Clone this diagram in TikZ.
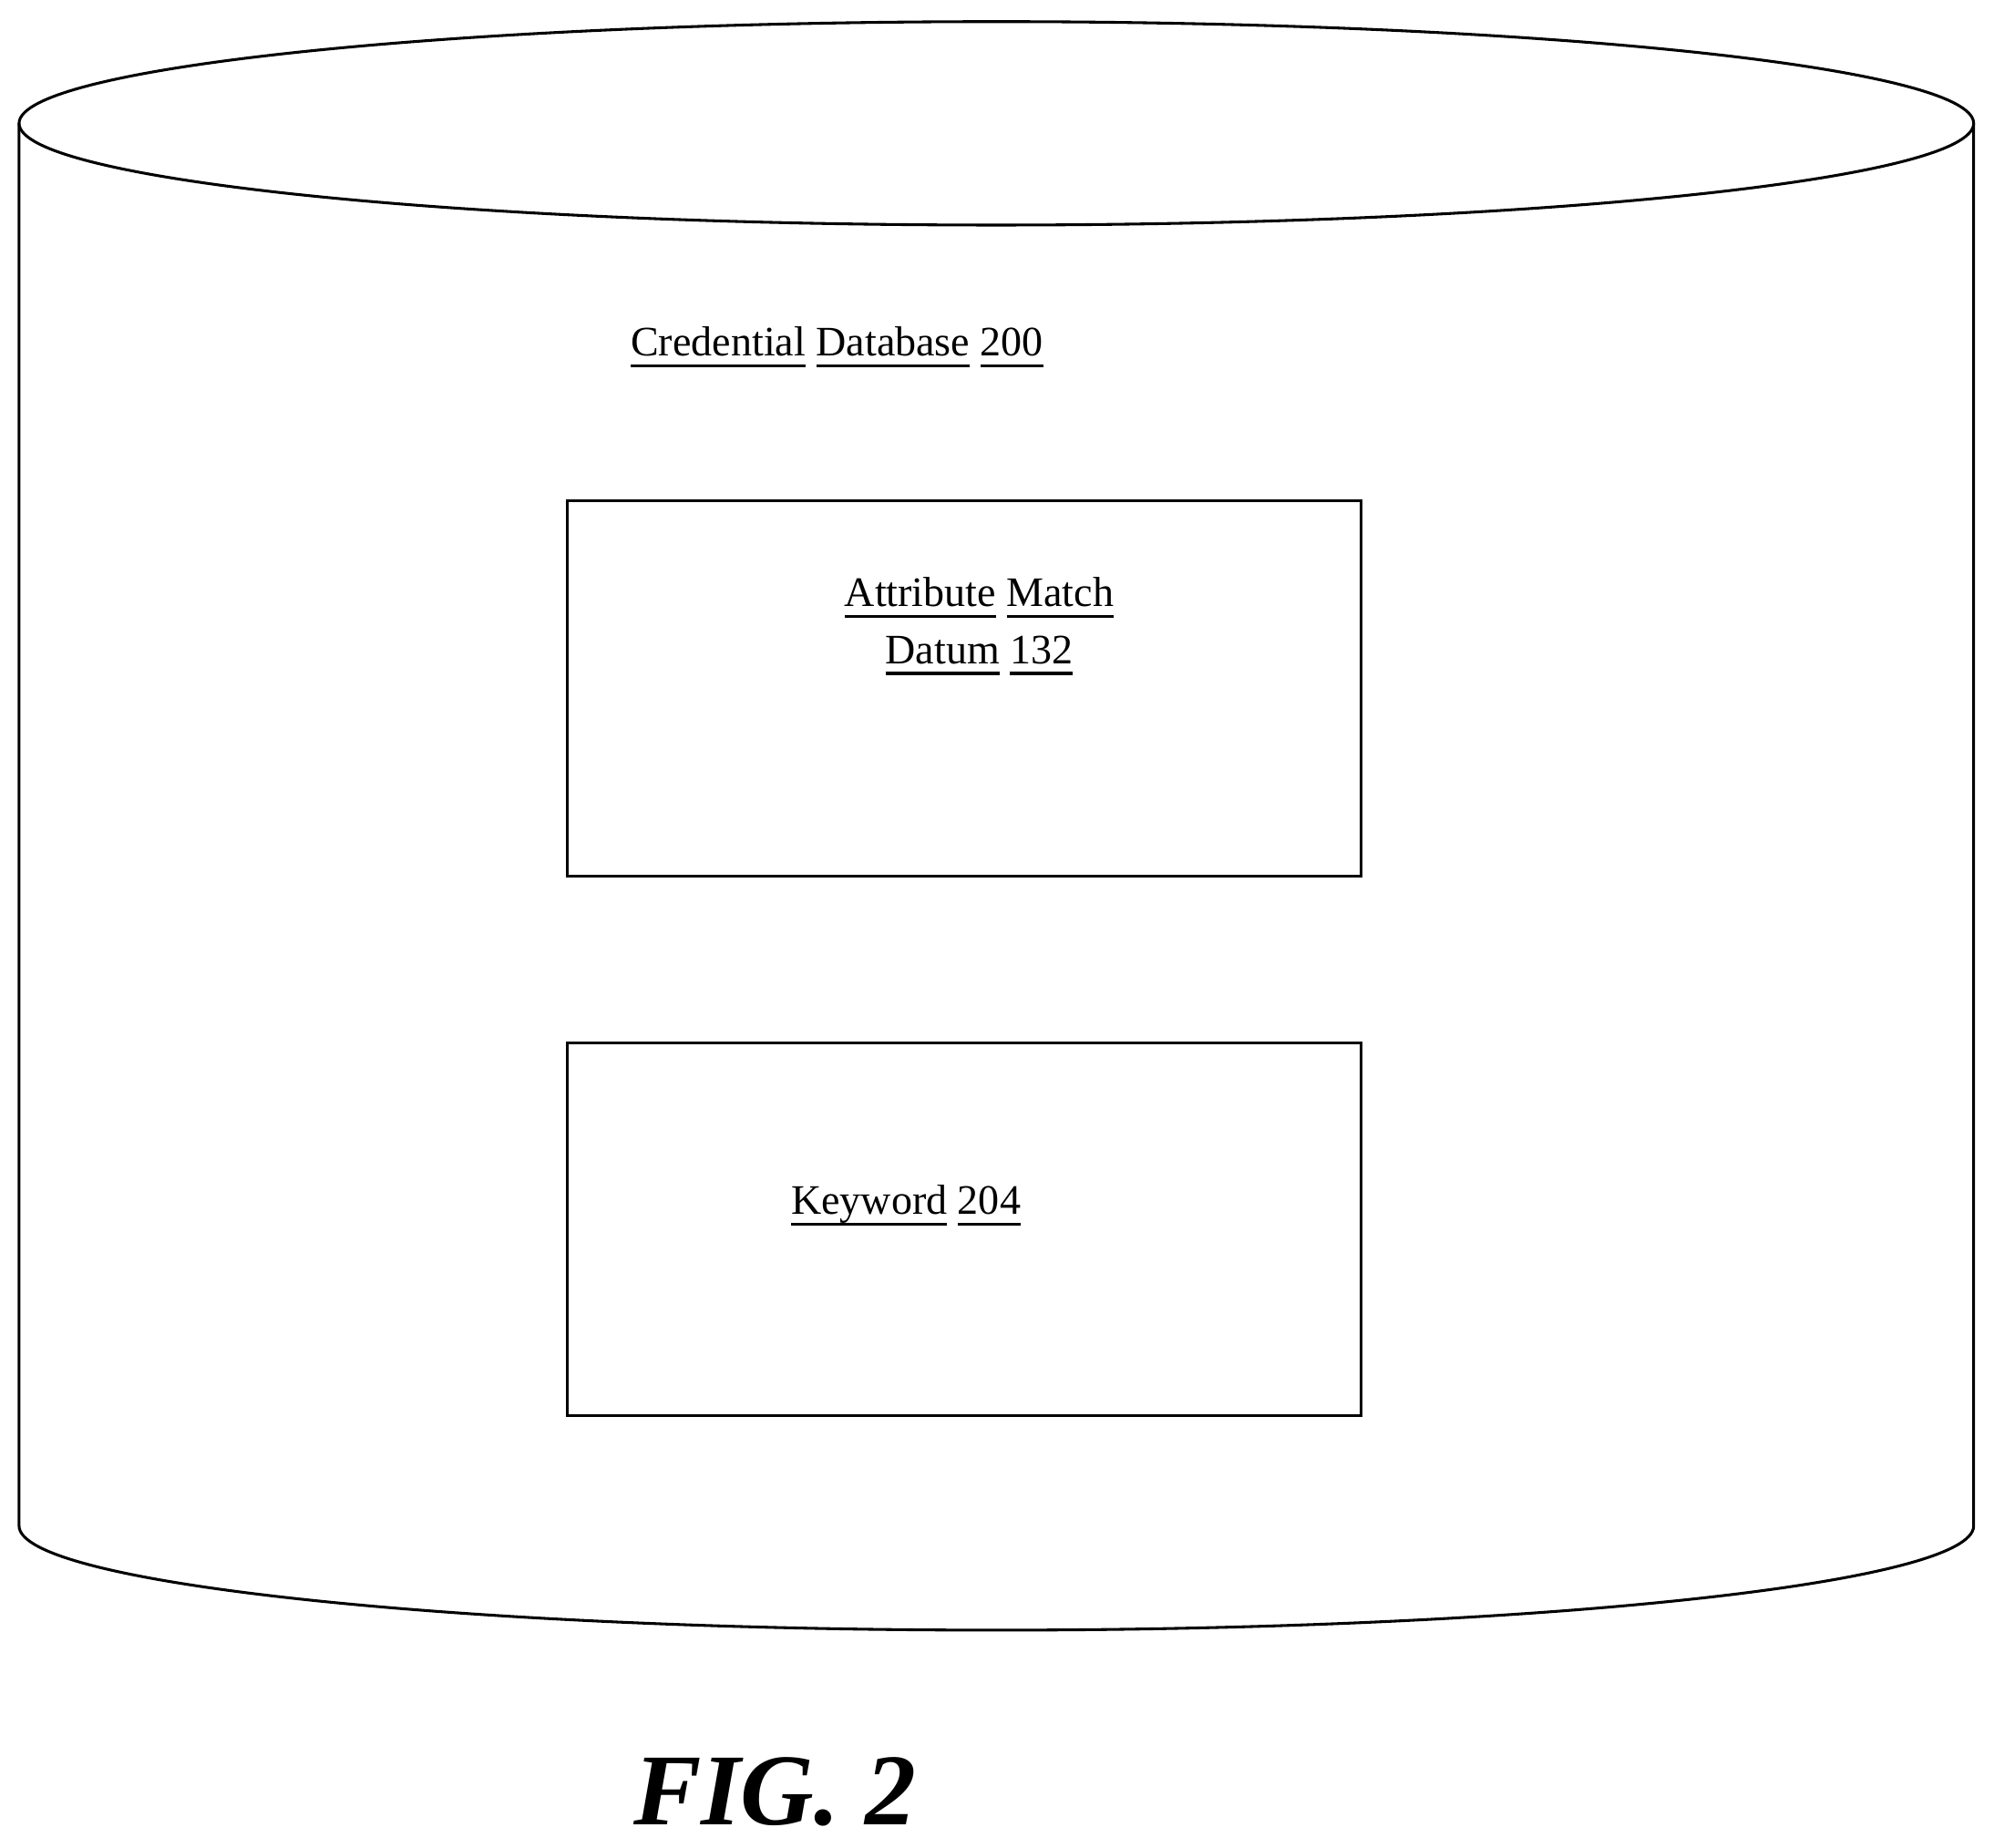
\documentclass[tikz,border=0pt]{standalone}
\usepackage{fontspec}
\setmainfont{Liberation Serif}
\newsavebox{\ulbox}
\newcommand{\ulw}[1]{\sbox{\ulbox}{#1}\leavevmode\rlap{\rule[-9pt]{\wd\ulbox}{2.6pt}}\usebox{\ulbox}}
\begin{document}
\begin{tikzpicture}[x=1pt,y=-1pt,line width=2.2pt,
  box/.style={draw,line width=2.2pt},
  lbl/.style={font=\fontsize{33}{40}\selectfont,inner sep=0pt}]
\useasboundingbox (0,0) rectangle (1568,1453);
% cylinder
\draw (15,97) -- (15,1200) arc[start angle=180,end angle=360,x radius=768.5,y radius=-82] -- (1552,97);
\draw (783.5,97) ellipse[x radius=768.5,y radius=80];
\node[box,minimum width=624pt,minimum height=295pt,inner sep=0pt] (b1) at (758,541.5) {};
\node[box,minimum width=624pt,minimum height=293pt,inner sep=0pt] (b2) at (758,966.5) {};
\node[lbl,anchor=base west] (t0) at (495,280) {\ulw{Credential} \ulw{Database} \ulw{200}};
\node[lbl,anchor=base] (t1) at (770,477) {\ulw{Attribute} \ulw{Match}};
\node[lbl,anchor=base] (t2) at (770,522) {\ulw{Datum} \ulw{132}};
\node[lbl,anchor=base west] (t3) at (621,955) {\ulw{Keyword} \ulw{204}};
\node[inner sep=0pt,anchor=base west,font=\fontsize{80}{88}\selectfont\bfseries\itshape] (fig) at (497,1435) {FIG. 2};
\end{tikzpicture}
\end{document}
